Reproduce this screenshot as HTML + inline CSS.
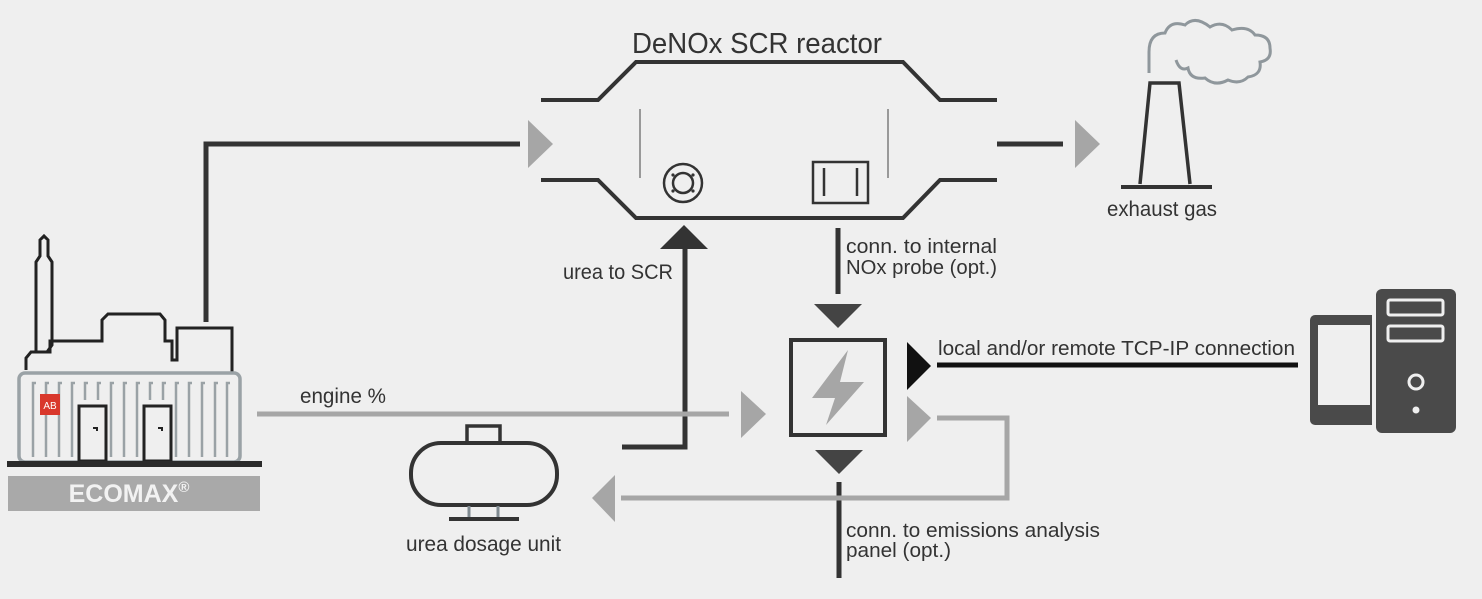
<!DOCTYPE html>
<html><head><meta charset="utf-8"><style>
html,body{margin:0;padding:0;background:#efefef;}
svg{display:block;}
text{font-family:"Liberation Sans",sans-serif;fill:#333;}
.n{font-family:"Liberation Sans Narrow","Liberation Sans",sans-serif;}
</style></head><body>
<svg width="1482" height="599" viewBox="0 0 1482 599" xmlns="http://www.w3.org/2000/svg">
<rect width="1482" height="599" fill="#efefef"/>
<g fill="none" stroke="#333" stroke-width="4">
<path d="M541 100 H598 L636 62 H903 L940 100 H997"/>
<path d="M541 180 H598 L636 218 H903 L940 180 H997"/>
<circle cx="683" cy="183" r="19" stroke-width="2.5"/>
<circle cx="683" cy="183" r="10" stroke-width="2.5"/>
<rect x="813" y="162" width="55" height="41" stroke-width="2.5"/>
<line x1="824" y1="168" x2="824" y2="196" stroke-width="2.5"/>
<line x1="857" y1="168" x2="857" y2="196" stroke-width="2.5"/>
</g>
<g fill="#333">
<circle cx="673" cy="175" r="1.6"/><circle cx="693" cy="175" r="1.6"/><circle cx="673" cy="191" r="1.6"/><circle cx="693" cy="191" r="1.6"/>
</g>
<line x1="640" y1="109" x2="640" y2="178" stroke="#999" stroke-width="2"/>
<line x1="888" y1="109" x2="888" y2="178" stroke="#999" stroke-width="2"/>
<text x="632" y="53" font-size="29" class="n" textLength="250" lengthAdjust="spacingAndGlyphs">DeNOx SCR reactor</text>
<path d="M206 322 V144 H520" fill="none" stroke="#333" stroke-width="5"/>
<polygon points="528,120 553,144 528,168" fill="#a6a6a6"/>
<line x1="997" y1="144" x2="1063" y2="144" stroke="#333" stroke-width="5"/>
<polygon points="1075,120 1100,144 1075,168" fill="#a6a6a6"/>
<path d="M1140 184 L1150 83 H1179 L1190 184" fill="none" stroke="#333" stroke-width="3.5"/>
<line x1="1121" y1="187" x2="1212" y2="187" stroke="#333" stroke-width="4"/>
<path d="M1149 73 V52 Q1149 33 1165 33 Q1170 20 1185 25 Q1195 15 1210 27 Q1222 20 1232 30 Q1248 25 1255 35 Q1270 35 1270 48 Q1272 60 1260 62 Q1262 75 1248 77 Q1240 85 1228 80 Q1215 87 1205 78 Q1190 80 1188 68 Q1180 72 1176 60" fill="none" stroke="#8f979c" stroke-width="3"/>
<text x="1107" y="216" font-size="21" class="n" textLength="110" lengthAdjust="spacingAndGlyphs">exhaust gas</text>
<path d="M622 447 H685 V246" fill="none" stroke="#333" stroke-width="5"/>
<polygon points="660,249 684,225 708,249" fill="#333"/>
<text x="563" y="279" font-size="21" class="n" textLength="110" lengthAdjust="spacingAndGlyphs">urea to SCR</text>
<line x1="838" y1="228" x2="838" y2="294" stroke="#333" stroke-width="5"/>
<text x="846" y="253" font-size="20" class="n" textLength="151" lengthAdjust="spacingAndGlyphs">conn. to internal</text>
<text x="846" y="274" font-size="20" class="n" textLength="151" lengthAdjust="spacingAndGlyphs">NOx probe (opt.)</text>
<polygon points="814,304 862,304 838,328" fill="#444"/>
<rect x="791" y="340" width="94" height="95" fill="none" stroke="#333" stroke-width="4"/>
<polygon points="848,350 812,398 835,398 826,425 864,382 840,382" fill="#a6a6a6"/>
<polygon points="815,450 863,450 839,474" fill="#444"/>
<line x1="839" y1="482" x2="839" y2="578" stroke="#333" stroke-width="5"/>
<text x="846" y="537" font-size="20" class="n" textLength="254" lengthAdjust="spacingAndGlyphs">conn. to emissions analysis</text>
<text x="846" y="557" font-size="20" class="n" textLength="105" lengthAdjust="spacingAndGlyphs">panel (opt.)</text>
<polygon points="907,342 931,366 907,390" fill="#111"/>
<line x1="937" y1="365" x2="1298" y2="365" stroke="#111" stroke-width="5"/>
<text x="938" y="355" font-size="20" class="n" textLength="357" lengthAdjust="spacingAndGlyphs">local and/or remote TCP-IP connection</text>
<polygon points="907,396 931,418 907,442" fill="#a6a6a6"/>
<path d="M937 418 H1007 V498 H621" fill="none" stroke="#a6a6a6" stroke-width="5"/>
<polygon points="592,498 615,475 615,522" fill="#a6a6a6"/>
<line x1="257" y1="414" x2="729" y2="414" stroke="#a6a6a6" stroke-width="5"/>
<polygon points="741,391 766,414 741,438" fill="#a6a6a6"/>
<text x="300" y="403" font-size="21" class="n" textLength="86" lengthAdjust="spacingAndGlyphs">engine %</text>
<rect x="411" y="443" width="146" height="62" rx="30" fill="none" stroke="#333" stroke-width="4"/>
<rect x="467" y="426" width="33" height="17" fill="none" stroke="#333" stroke-width="3.5"/>
<line x1="469" y1="506" x2="469" y2="518" stroke="#7f8a90" stroke-width="3"/>
<line x1="498" y1="506" x2="498" y2="518" stroke="#7f8a90" stroke-width="3"/>
<line x1="449" y1="519" x2="519" y2="519" stroke="#333" stroke-width="4"/>
<text x="406" y="551" font-size="21" class="n" textLength="155" lengthAdjust="spacingAndGlyphs">urea dosage unit</text>
<g fill="#4a4a4a">
<rect x="1310" y="315" width="68" height="110" rx="5"/>
<rect x="1376" y="289" width="80" height="144" rx="6"/>
</g>
<rect x="1318" y="325" width="52" height="80" fill="#efefef"/>
<rect x="1372" y="315" width="4" height="112" fill="#efefef"/>
<rect x="1388" y="300" width="55" height="15" rx="2" fill="none" stroke="#efefef" stroke-width="3"/>
<rect x="1388" y="326" width="55" height="15" rx="2" fill="none" stroke="#efefef" stroke-width="3"/>
<circle cx="1416" cy="382" r="7" fill="none" stroke="#efefef" stroke-width="3"/>
<circle cx="1416" cy="410" r="3.5" fill="#efefef"/>
<path d="M26 370 V358 L31 352 H50 V341 H102 V320 L108 314 H160 L165 320 V341 H172 V360 H177 V328 H232 V372 M36 352 V262 L40 256 V240 L44 236 L48 240 V256 L52 262 V345 L47 352" fill="none" stroke="#222" stroke-width="3"/>
<rect x="19" y="373" width="221" height="89" rx="6" fill="none" stroke="#9aa2a6" stroke-width="3.5"/>
<g fill="none" stroke="#9aa2a6" stroke-width="2.5">
<path d="M33 457 V383 H36 M46 457 V383 H49 M59 457 V383 H62 M72 457 V383 H75 M85 400 V383 H88 M98 400 V383 H101 M111 457 V383 H114 M124 457 V383 H127 M137 457 V383 H140 M150 400 V383 H153 M163 400 V383 H166 M176 457 V383 H179 M189 457 V383 H192 M202 457 V383 H205 M215 457 V383 H218 M227 457 V383 H230"/>
</g>
<rect x="40" y="394" width="20" height="21" fill="#d9382c"/>
<text x="50" y="409" font-size="10" text-anchor="middle" style="fill:#fff">AB</text>
<rect x="79" y="406" width="27" height="55" fill="#efefef" stroke="#222" stroke-width="3"/>
<rect x="144" y="406" width="27" height="55" fill="#efefef" stroke="#222" stroke-width="3"/>
<path d="M93 428 H97 V431 M158 428 H162 V431" stroke="#222" stroke-width="2" fill="none"/>
<rect x="7" y="461" width="255" height="6" fill="#2b2b2b"/>
<rect x="8" y="476" width="252" height="35" fill="#a9a9a9"/>
<text x="129" y="502" font-size="25" font-weight="bold" text-anchor="middle" class="n" style="fill:#f2f2f2">ECOMAX<tspan font-size="15" dy="-10">®</tspan></text>
</svg>
</body></html>
